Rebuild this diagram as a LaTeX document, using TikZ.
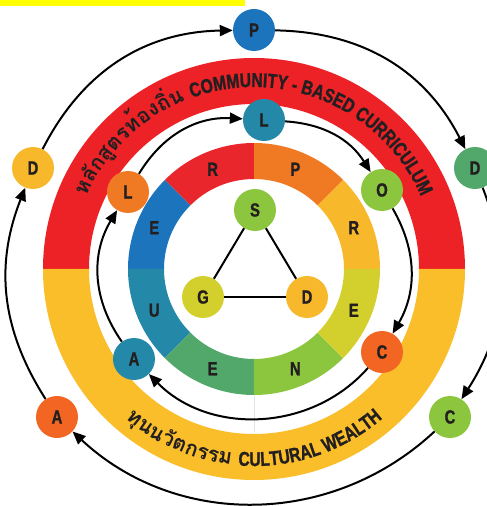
\documentclass[tikz,border=0pt]{standalone}
\usepackage{fontspec}
\setmainfont{Liberation Sans}
\newfontfamily\bandfont[FakeStretch=0.78, BoldFeatures={FakeBold=1.2}]{Liberation Sans}
\newfontfamily\thaifont[Script=Thai]{Loma}
\usetikzlibrary{arrows.meta,decorations.text}

\definecolor{ink}{HTML}{231F20}
\definecolor{topyellow}{HTML}{FFFF00}
\definecolor{ringred}{HTML}{EC2227}
\definecolor{ringyellow}{HTML}{F9BE2A}
\definecolor{segred}{HTML}{E8262B}
\definecolor{segorange}{HTML}{F07A24}
\definecolor{segamber}{HTML}{F8B82C}
\definecolor{segolive}{HTML}{D3CF2C}
\definecolor{seglime}{HTML}{8CC63F}
\definecolor{seggreen}{HTML}{52A86B}
\definecolor{segteal}{HTML}{2489A8}
\definecolor{segblue}{HTML}{1C75BC}
\definecolor{dotorange}{HTML}{F26522}

\begin{document}
\begin{tikzpicture}[x=1pt, y=1pt,
  letter/.style={font=\bandfont\bfseries\fontsize{19}{19}\selectfont, text=ink},
  dot/.style={shape=circle, minimum size=42pt, inner sep=0pt, letter},
  loop/.style={-{Triangle[length=13pt, width=11pt]}, line width=2pt, draw=black}]
\useasboundingbox (-254,-237) rectangle (233,269);
\fill[topyellow] (-254,269) rectangle (-9,263);

% outer band
\fill[ringred] (0:211) arc[start angle=0, end angle=180, radius=211] -- (180:165) arc[start angle=180, end angle=0, radius=165] -- cycle;
\fill[ringyellow] (180:211) arc[start angle=180, end angle=360, radius=211] -- (0:165) arc[start angle=360, end angle=180, radius=165] -- cycle;
\path[decorate, decoration={text along path, text align=center, text color=ink,
  text={|\thaifont\bfseries\fontsize{21}{21}\selectfont|หลักสูตรท้องถิ่น |\bandfont\bfseries\fontsize{20}{20}\selectfont|COMMUNITY - BASED CURRICULUM}}]
  (170:182) arc[start angle=170, end angle=10, radius=182];
\path[decorate, decoration={text along path, text align=center, text color=ink,
  text={|\thaifont\bfseries\fontsize{21}{21}\selectfont|ทุนนวัตกรรม |\bandfont\bfseries\fontsize{20}{20}\selectfont|CULTURAL WEALTH}}]
  (200:197) arc[start angle=200, end angle=340, radius=197];

% segmented ring
\foreach \a/\c/\t in {0/segamber/R, 45/segorange/P, 90/segred/R, 135/segblue/E,
                      180/segteal/U, 225/seggreen/E, 270/seglime/N, 315/segolive/E} {
  \fill[\c] (\a:126) arc[start angle=\a, end angle=\a+45, radius=126] -- ({\a+45}:90) arc[start angle=\a+45, end angle=\a, radius=90] -- cycle;
  \node[letter] at ({\a+22.5}:108) {\t};
}
\draw[gray!20, line width=0.6pt] (0,-126) -- (0,-163);

% outer cycle
\node at (0, 239) [dot, fill=segblue] (p) {P};
\node at (221, 101) [dot, fill=seggreen] (dr) {D};
\node at (196, -148) [dot, fill=seglime] (cr) {C};
\node at (-197, -148) [dot, fill=dotorange] (al) {A};
\node at (-221, 101) [dot, fill=segamber] (dl) {D};
\draw [loop] (p) to [bend left=31] (dr);
\draw [loop] (dr) to [bend left=27] (cr);
\draw [loop] (cr) to [bend left=43] (al);
\draw [loop] (al) to [bend left=27] (dl);
\draw [loop] (dl) to [bend left=31] (p);

% inner cycle
\node at (10, 149) [dot, fill=segteal] (lt) {L};
\node at (128, 79) [dot, fill=seglime] (o) {O};
\node at (128, -83) [dot, fill=dotorange] (ci) {C};
\node at (-120, -90) [dot, fill=segteal] (ai) {A};
\node at (-126, 77) [dot, fill=segorange] (ll) {L};
\draw [loop] (ll) to [bend left=31] (lt);
\draw [loop] (lt) to [bend left=27] (o);
\draw [loop] (o) to [bend left=30] (ci);
\draw [loop] (ci) to [bend left=47] (ai);
\draw [loop] (ai) to [bend left=33] (ll);

% triangle
\node at (1, 59) [dot, fill=seglime] (s) {S};
\node at (-51, -28) [dot, fill=segolive] (g) {G};
\node at (53, -28) [dot, fill=segamber] (d) {D};
\draw [line width=2pt] (s) -- (g);
\draw [line width=2pt] (s) -- (d);
\draw [line width=2pt] (g) -- (d);
\end{tikzpicture}
\end{document}
